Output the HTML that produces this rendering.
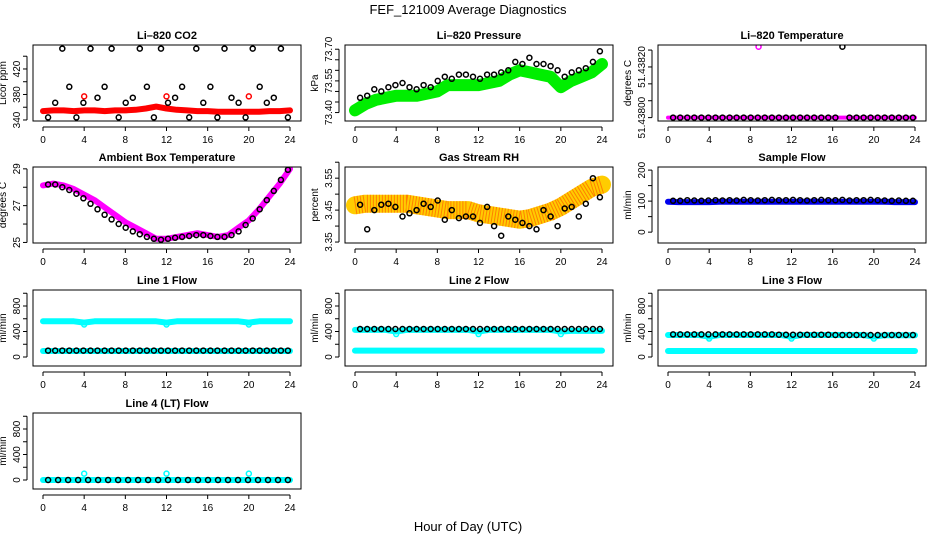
<!DOCTYPE html>
<html><head><meta charset="utf-8"><style>
html,body{margin:0;padding:0;background:#fff;}
svg{display:block;font-family:"Liberation Sans",sans-serif;}
</style></head><body>
<svg id="c" width="936" height="540" viewBox="0 0 936 540" xmlns="http://www.w3.org/2000/svg">
<text x="468" y="14" text-anchor="middle" font-size="13">FEF_121009  Average Diagnostics</text>
<text x="468" y="531" text-anchor="middle" font-size="13">Hour of Day (UTC)</text>
</svg>
<script>
var hourTicks=[0,4,8,12,16,20,24];
var bandHours=[0,1,2,3,4,5,6,7,8,9,10,11,12,13,14,15,16,17,18,19,20,21,22,23,24];
var co2Band=[354,355,355,354,355,355,354,355,355,356,358,361,358,356,355,354,354,353,353,353,353,353,354,354,355];
var co2Pts=[344,367,452,392,344,367,452,375,392,452,344,367,375,452,392,344,452,367,375,392,344,452,367,392,344,452,375,367,344,452,392,367,375,452,344];
var presBand=[73.41,73.44,73.46,73.47,73.48,73.48,73.48,73.49,73.50,73.53,73.53,73.53,73.53,73.54,73.55,73.58,73.60,73.59,73.58,73.57,73.52,73.55,73.57,73.59,73.63];
var presPts=[73.47,73.48,73.51,73.50,73.52,73.53,73.54,73.52,73.51,73.53,73.52,73.55,73.57,73.56,73.58,73.58,73.57,73.56,73.58,73.58,73.59,73.60,73.64,73.63,73.66,73.63,73.63,73.62,73.60,73.57,73.59,73.60,73.61,73.64,73.69];
var tempBand=[51.438,51.438,51.438,51.438,51.438,51.438,51.438,51.438,51.438,51.438,51.438,51.438,51.438,51.438,51.438,51.438,51.438,51.438,51.438,51.438,51.438,51.438,51.438,51.438,51.438];
var tempPts=[51.438,51.438,51.438,51.438,51.438,51.438,51.438,51.438,51.438,51.438,51.438,51.438,51.438,51.438,51.438,51.438,51.438,51.438,51.438,51.438,51.438,51.438,51.438,51.438,51.43821,51.438,51.438,51.438,51.438,51.438,51.438,51.438,51.438,51.438,51.438];
var ambBand=[28.1,28.2,28.1,27.9,27.6,27.3,26.9,26.5,26.1,25.8,25.5,25.2,25.2,25.3,25.4,25.5,25.4,25.3,25.4,25.8,26.2,26.8,27.5,28.2,29.0];
var ambPts=[28.15,28.15,28.0,27.85,27.65,27.4,27.1,26.8,26.5,26.25,26.0,25.8,25.6,25.45,25.3,25.2,25.15,25.2,25.25,25.3,25.35,25.4,25.4,25.35,25.3,25.3,25.4,25.6,25.95,26.3,26.8,27.3,27.8,28.4,28.95];
var rhBand=[3.465,3.47,3.47,3.47,3.47,3.47,3.465,3.46,3.455,3.45,3.45,3.45,3.44,3.435,3.43,3.425,3.42,3.425,3.435,3.445,3.46,3.48,3.50,3.52,3.53];
var rhPts=[3.467,3.39,3.45,3.467,3.47,3.46,3.43,3.44,3.45,3.47,3.46,3.48,3.42,3.45,3.425,3.43,3.43,3.41,3.46,3.40,3.37,3.43,3.42,3.41,3.40,3.39,3.45,3.43,3.40,3.455,3.46,3.43,3.47,3.55,3.49];
var sfBand=[98,97,97,97,97,98,98,98,98,98,98,98,98,98,98,98,98,98,98,98,98,98,97,97,97];
var sfPts=[101,101,103,102,101,102,103,102,103,102,104,103,102,103,104,103,103,104,103,102,103,104,103,103,104,102,103,103,104,103,102,101,102,101,101];
var l1Upper=[560,560,560,560,540,560,560,560,560,560,560,560,540,560,560,560,560,560,560,560,540,560,560,560,560];
var l1Lower=[95,95,95,95,95,95,95,95,95,95,95,95,95,95,95,95,95,95,95,95,95,95,95,95,95];
var l1Pts=[100,100,100,100,100,100,100,100,100,100,100,100,100,100,100,100,100,100,100,100,100,100,100,100,100,100,100,100,100,100,100,100,100,100,100];
var l2Upper=[425,425,425,425,400,425,425,425,425,425,425,425,400,425,425,425,425,425,425,425,400,410,410,410,410];
var l2Lower=[100,100,100,100,100,100,100,100,100,100,100,100,100,100,100,100,100,100,100,100,100,100,100,100,100];
var l2Pts=[440,440,440,440,440,440,440,440,440,440,440,440,440,440,440,440,440,440,440,440,440,440,440,440,440,440,440,440,440,440,440,440,440,440,440];
var l3Upper=[345,345,345,345,320,345,345,345,345,345,345,345,320,345,345,345,345,345,345,345,320,340,340,340,340];
var l3Lower=[95,95,95,95,95,95,95,95,95,95,95,95,95,95,95,95,95,95,95,95,95,95,95,95,95];
var l3Pts=[355,355,355,355,355,355,355,355,355,355,355,355,355,355,355,350,350,350,350,350,350,350,350,345,345,345,345,345,345,345,345,345,345,345,345];
var l4Upper=[0,0,0,0,0,0,0,0,0,0,0,0,0,0,0,0,0,0,0,0,0,0,0,0,0];
var l4Pts=[0,0,0,0,0,0,0,0,0,0,0,0,0,0,0,0,0,0,0,0,0,0,0,0,0];
var outlierHours=[4,12,20];
var co2Out=[377,377,377];
var l1Out=[510,510,510];
var l2Out=[360,360,360];
var l3Out=[290,290,290];
var l4Out=[100,100,100];

var svg=document.getElementById('c');
var NS='http://www.w3.org/2000/svg';
function mk(tag,attrs,parent){var e=document.createElementNS(NS,tag);for(var k in attrs)e.setAttribute(k,attrs[k]);(parent||svg).appendChild(e);return e;}
var colX=[43,355,668],rowY=[45,167,290,413],BH=76,XS=247/24;
function ptHours(n){var a=[];for(var i=0;i<n;i++)a.push(0.5+i*(23.3/(n-1)));return a;}
var flowT=[0,200,400,600,800,1000],flowL=['0','','400','','800',''];
var panels=[
{name:'co2',title:'Li\u2013820 CO2',yl:'Licor ppm',c:0,r:0,min:338.4,max:457.6,ticks:[340,360,380,400,420,440],labels:['340','','380','','420',''],bands:[[co2Band,'#ff0000',6]],pts:co2Pts,out:[co2Out,'#ff0000']},
{name:'pressure',title:'Li\u2013820 Pressure',yl:'kPa',c:1,r:0,min:73.36,max:73.72,ticks:[73.40,73.45,73.50,73.55,73.60,73.65,73.70],labels:['73.40','','','73.55','','','73.70'],bands:[[presBand,'#00ee00',12]],pts:presPts},
{name:'li820-temp',title:'Li\u2013820 Temperature',yl:'degrees C',c:2,r:0,min:51.43799,max:51.438215,ticks:[51.438,51.43805,51.4381,51.43815,51.4382],labels:['51.43800','','','51.43820',''],bands:[[tempBand,'#ff00ff',4]],pts:tempPts,extra:[8.8,51.43821,'#ff00ff']},
{name:'ambient',title:'Ambient Box Temperature',yl:'degrees C',c:0,r:1,min:24.97,max:29.1,ticks:[25,26,27,28,29],labels:['25','','27','','29'],bands:[[ambBand,'#ff00ff',6]],pts:ambPts},
{name:'rh',title:'Gas Stream RH',yl:'percent',c:1,r:1,min:3.347,max:3.585,ticks:[3.35,3.40,3.45,3.50,3.55,3.60],labels:['3.35','','3.45','','3.55',''],bands:[[rhBand,'#ffcc00',18]],pts:rhPts,dots:true},
{name:'sample-flow',title:'Sample Flow',yl:'ml/min',c:2,r:1,min:-35,max:210,ticks:[0,50,100,150,200],labels:['0','','100','','200'],bands:[[sfBand,'#0000ee',6]],pts:sfPts},
{name:'line1',title:'Line 1 Flow',yl:'ml/min',c:0,r:2,min:-141,max:1051,ticks:flowT,labels:flowL,bands:[[l1Upper,'#00ffff',6],[l1Lower,'#00ffff',6]],pts:l1Pts,out:[l1Out,'#00ffff']},
{name:'line2',title:'Line 2 Flow',yl:'ml/min',c:1,r:2,min:-141,max:1051,ticks:flowT,labels:flowL,bands:[[l2Upper,'#00ffff',6],[l2Lower,'#00ffff',6]],pts:l2Pts,out:[l2Out,'#00ffff']},
{name:'line3',title:'Line 3 Flow',yl:'ml/min',c:2,r:2,min:-141,max:1051,ticks:flowT,labels:flowL,bands:[[l3Upper,'#00ffff',6],[l3Lower,'#00ffff',6]],pts:l3Pts,out:[l3Out,'#00ffff']},
{name:'line4',title:'Line 4 (LT) Flow',yl:'ml/min',c:0,r:3,min:-141,max:1051,ticks:flowT,labels:flowL,bands:[[l4Upper,'#00ffff',6]],pts:l4Pts,out:[l4Out,'#00ffff']}
];
panels.forEach(function(p){
  var x0=colX[p.c],top=rowY[p.r],bot=top+BH;
  var g=mk('g',{});
  
  
  function X(h){return x0+h*XS;}
  function Y(v){return bot-(v-p.min)/(p.max-p.min)*BH;}
  var L=x0-10,R=x0+258;
  var cp=mk('clipPath',{id:'cp'+p.name},g);mk('rect',{x:L,y:top,width:R-L,height:BH},cp);
  var plot=mk('g',{'clip-path':'url(#cp'+p.name+')'},g);
  p.bands.forEach(function(b){
    var d=b[0].map(function(v,i){return (i?'L':'M')+X(bandHours[i]).toFixed(1)+','+Y(v).toFixed(1);}).join('');
    var path=mk('path',{d:d,fill:'none',stroke:b[1],'stroke-width':b[2],'stroke-linejoin':'round','stroke-linecap':'round'},plot);
    
    
    if(p.dots){var pd=mk('path',{d:d,fill:'none',stroke:'#ff3300','stroke-width':b[2],'stroke-dasharray':'1 2','opacity':'0.5'},plot);
      
      }
  });
  if(p.out){outlierHours.forEach(function(h,i){
    var c=mk('circle',{cx:X(h),cy:Y(p.out[0][i]),r:2.5,fill:'none',stroke:p.out[1],'stroke-width':1.5},plot);
    
    });}
  if(p.extra){var e=mk('circle',{cx:X(p.extra[0]),cy:Y(p.extra[1]),r:2.5,fill:'none',stroke:p.extra[2],'stroke-width':1.5},plot);
    
    }
  var hs=ptHours(p.pts.length);
  p.pts.forEach(function(v,i){
    var c=mk('circle',{cx:X(hs[i]).toFixed(1),cy:Y(v).toFixed(1),r:2.5,fill:'none',stroke:'#000','stroke-width':1.5},plot);
    
    
  });
  var box=mk('rect',{x:L,y:top,width:R-L,height:BH,fill:'none',stroke:'#000','stroke-width':1},g);
  
  
  var t=mk('text',{x:(L+R)/2,y:top-6,'text-anchor':'middle','font-size':11,'font-weight':'bold'},g);t.textContent=p.title;
  
  
  mk('line',{x1:X(0),x2:X(24),y1:bot+6,y2:bot+6,stroke:'#000'},g);
  hourTicks.forEach(function(h){
    mk('line',{x1:X(h),x2:X(h),y1:bot+6,y2:bot+10,stroke:'#000'},g);
    var tl=mk('text',{x:X(h),y:bot+22,'text-anchor':'middle','font-size':10},g);tl.textContent=h;
    
    
  });
  var tk=p.ticks;
  mk('line',{x1:L-6,x2:L-6,y1:Y(tk[0]),y2:Y(tk[tk.length-1]),stroke:'#000'},g);
  tk.forEach(function(v,i){
    var yy=Y(v);
    mk('line',{x1:L-10,x2:L-6,y1:yy,y2:yy,stroke:'#000'},g);
    if(p.labels[i]){var tl=mk('text',{x:0,y:0,'text-anchor':'middle','font-size':10,transform:'translate('+(L-13)+','+yy+') rotate(-90)'},g);tl.textContent=p.labels[i];
      
      }
  });
  var yl=mk('text',{x:0,y:0,'text-anchor':'middle','font-size':10,transform:'translate('+(L-27)+','+(top+BH/2)+') rotate(-90)'},g);yl.textContent=p.yl;
  
  
});
</script>
</body></html>
